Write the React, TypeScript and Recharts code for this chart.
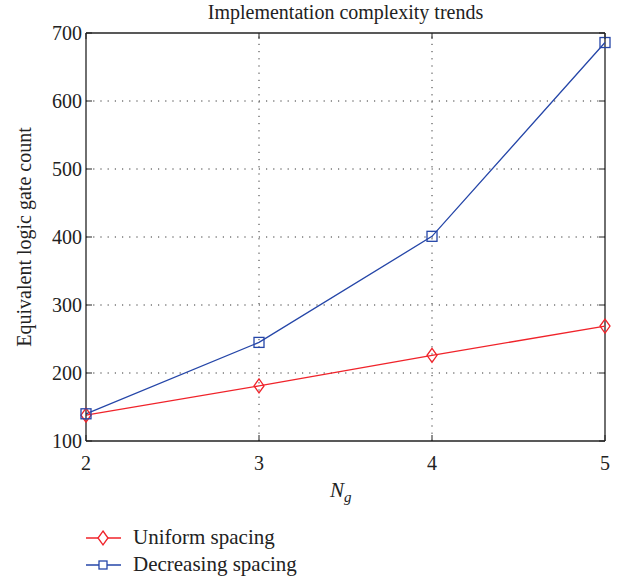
import React from "react";
import {
  LineChart,
  Line,
  XAxis,
  YAxis,
  ReferenceLine,
} from "recharts";

// Number of groups N_g
const ngValues = [2, 3, 4, 5];
// Equivalent logic gate counts per spacing scheme
const uniformSpacing = [138, 181, 226, 269];
const decreasingSpacing = [140, 245, 401, 686];
const yTicks = [100, 200, 300, 400, 500, 600, 700];
const xTicks = [2, 3, 4, 5];
const yGrid = [200, 300, 400, 500, 600];
const xGrid = [3, 4];

const data = ngValues.map((ng, i) => ({
  ng,
  uniform: uniformSpacing[i],
  decreasing: decreasingSpacing[i],
}));

const W = 622;
const H = 577;
const PLOT_LEFT = 86;
const PLOT_RIGHT = 605;
const PLOT_TOP = 33;
const PLOT_BOTTOM = 441;
const FONT = "'Liberation Serif', 'DejaVu Serif', serif";
const RED = "#f0232a";
const BLUE = "#2546a8";
const TICK_LEN = 6;
const GRID_DASH = "1.2 6";

const YTick = (props: any) => {
  const { y, payload } = props;
  return (
    <g>
      <line x1={PLOT_LEFT} x2={PLOT_LEFT + TICK_LEN} y1={y} y2={y} stroke="#222" />
      <line x1={PLOT_RIGHT - TICK_LEN} x2={PLOT_RIGHT} y1={y} y2={y} stroke="#222" />
      <text
        x={PLOT_LEFT - 4}
        y={y}
        textAnchor="end"
        dominantBaseline="central"
        fontFamily={FONT}
        fontSize={20}
        fill="#222"
      >
        {payload.value}
      </text>
    </g>
  );
};

const XTick = (props: any) => {
  const { x, payload } = props;
  return (
    <g>
      <line x1={x} x2={x} y1={PLOT_BOTTOM - TICK_LEN} y2={PLOT_BOTTOM} stroke="#222" />
      <line x1={x} x2={x} y1={PLOT_TOP} y2={PLOT_TOP + TICK_LEN} stroke="#222" />
      <text
        x={x}
        y={PLOT_BOTTOM + 22}
        textAnchor="middle"
        dominantBaseline="central"
        fontFamily={FONT}
        fontSize={20}
        fill="#222"
      >
        {payload.value}
      </text>
    </g>
  );
};

const Diamond = (props: any) => {
  const { cx, cy, stroke } = props;
  if (cx == null || cy == null) return null;
  const r = 7;
  return (
    <path
      d={`M${cx},${cy - r} L${cx + 5},${cy} L${cx},${cy + r} L${cx - 5},${cy} Z`}
      fill="none"
      stroke={stroke}
      strokeWidth={1.3}
    />
  );
};

const Square = (props: any) => {
  const { cx, cy, stroke } = props;
  if (cx == null || cy == null) return null;
  const s = 5;
  return (
    <rect
      x={cx - s}
      y={cy - s}
      width={2 * s}
      height={2 * s}
      fill="none"
      stroke={stroke}
      strokeWidth={1.3}
    />
  );
};

const legendItems = [
  { label: "Uniform spacing", color: RED, marker: "diamond" },
  { label: "Decreasing spacing", color: BLUE, marker: "square" },
];

const ChartLegend = () => (
  <div
    style={{
      position: "absolute",
      left: PLOT_LEFT,
      top: 524,
      fontFamily: FONT,
      fontSize: 21,
      color: "#222",
    }}
  >
    {legendItems.map((it) => (
      <div key={it.label} style={{ display: "flex", alignItems: "center", height: 27 }}>
        <svg width={35} height={20} style={{ marginRight: 12 }}>
          <line x1={0} x2={35} y1={10} y2={10} stroke={it.color} strokeWidth={1.3} />
          {it.marker === "diamond" ? (
            <path d="M17,3 L22,10 L17,17 L12,10 Z" fill="white" stroke={it.color} strokeWidth={1.3} />
          ) : (
            <rect x={13} y={6} width={8} height={8} fill="white" stroke={it.color} strokeWidth={1.3} />
          )}
        </svg>
        <span>{it.label}</span>
      </div>
    ))}
  </div>
);

export default function App() {
  return (
    <div style={{ position: "absolute", left: 0, top: 0, width: W, height: H, background: "#fff" }}>
      <div
        style={{
          position: "absolute",
          top: 1,
          left: PLOT_LEFT,
          width: PLOT_RIGHT - PLOT_LEFT,
          textAlign: "center",
          fontFamily: FONT,
          fontSize: 20,
          color: "#222",
        }}
      >
        Implementation complexity trends
      </div>
      <div
        style={{
          position: "absolute",
          left: 330,
          top: 478,
          fontFamily: FONT,
          fontSize: 21,
          fontStyle: "italic",
          color: "#222",
        }}
      >
        N<sub style={{ fontSize: 15, verticalAlign: "-5px" }}>g</sub>
      </div>
      <LineChart
        width={W}
        height={H}
        data={data}
        margin={{ top: PLOT_TOP, right: W - PLOT_RIGHT, left: PLOT_LEFT - 50, bottom: 0 }}
      >
        <XAxis
          dataKey="ng"
          type="number"
          domain={[2, 5]}
          ticks={xTicks}
          tick={<XTick />}
          tickLine={false}
          axisLine={{ stroke: "#222", strokeWidth: 1.3 }}
          height={H - PLOT_BOTTOM}
          interval={0}
        />
        <YAxis
          type="number"
          domain={[100, 700]}
          ticks={yTicks}
          tick={<YTick />}
          tickLine={false}
          axisLine={{ stroke: "#222", strokeWidth: 1.3 }}
          width={50}
          interval={0}
          label={{
            value: "Equivalent logic gate count",
            angle: -90,
            position: "insideLeft",
            dx: -17,
            style: { fontFamily: FONT, fontSize: 20, fill: "#222", textAnchor: "middle" },
          }}
        />
        {yGrid.map((v) => (
          <ReferenceLine key={`gy${v}`} y={v} stroke="#333" strokeDasharray={GRID_DASH} />
        ))}
        {xGrid.map((v) => (
          <ReferenceLine key={`gx${v}`} x={v} stroke="#333" strokeDasharray={GRID_DASH} />
        ))}
        <ReferenceLine y={700} stroke="#222" strokeWidth={1.3} />
        <ReferenceLine x={5} stroke="#222" strokeWidth={1.3} />
        <Line
          type="linear"
          dataKey="uniform"
          name="Uniform spacing"
          stroke={RED}
          strokeWidth={1.3}
          dot={<Diamond />}
          isAnimationActive={false}
        />
        <Line
          type="linear"
          dataKey="decreasing"
          name="Decreasing spacing"
          stroke={BLUE}
          strokeWidth={1.3}
          dot={<Square />}
          isAnimationActive={false}
        />
      </LineChart>
      <ChartLegend />
    </div>
  );
}
